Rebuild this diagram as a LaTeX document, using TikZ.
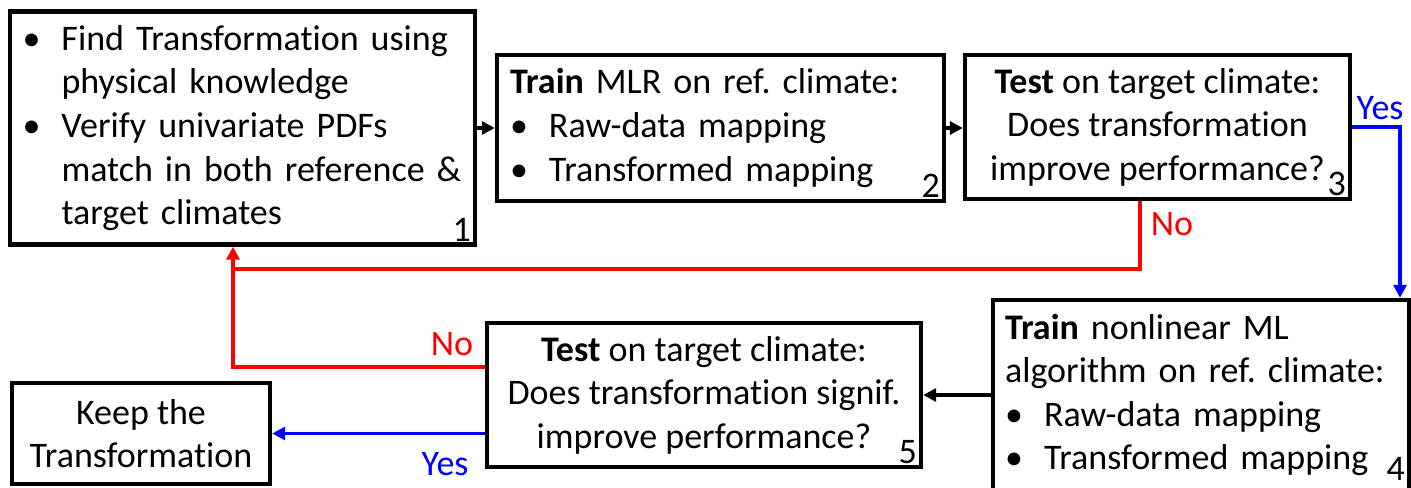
\documentclass[tikz,border=0pt]{standalone}
\usepackage{fontspec}
\setmainfont{Carlito}[Ligatures=NoCommon]
\usetikzlibrary{arrows.meta}
\frenchspacing
\newcommand{\bul}[1]{\makebox[19.5pt][l]{\textbullet}#1}
\newcommand{\cont}{\hspace*{19.5pt}}

\begin{document}
\begin{tikzpicture}[x=0.5pt,y=-0.5pt,
        font=\fontsize{18}{21.8}\selectfont,
        box/.style={draw,line width=2.2pt,inner sep=0pt},
        num/.style={anchor=south east,inner xsep=3pt,inner ysep=2.5pt},
        link/.style={line width=1.75pt,-{Triangle[length=6.5pt,width=6.5pt]}},
        yes/.style={link,blue},
        no/.style={link,red}]
        \useasboundingbox (0,0) rectangle (1411,487);
        \node[box,minimum width=232.5pt,minimum height=116.5pt,text width=220pt,align=left] (b1) at (242.5,128)
            {\bul{Find Transformation using}\\ \cont physical knowledge\\
             \bul{Verify univariate PDFs}\\ \cont match in both reference \&\\ \cont target climates};
        \node[box,minimum width=223.5pt,minimum height=73pt,text width=210.5pt,align=left] (b2) at (720.5,128)
            {\textbf{Train} MLR on ref. climate:\\ \bul{Raw-data mapping}\\ \bul{Transformed mapping}};
        \node[box,minimum width=192.5pt,minimum height=72pt,align=center] (b3) at (1157.5,127)
            {\textbf{Test} on target climate:\\ Does transformation\\ improve performance?};
        \node[box,minimum width=208pt,minimum height=95pt,text width=196pt,align=left] (b4) at (1201,395)
            {\textbf{Train} nonlinear ML\\ algorithm on ref. climate:\\ \bul{Raw-data mapping}\\ \bul{Transformed mapping}};
        \node[box,minimum width=217pt,minimum height=72pt,align=center] (b5) at (704,395)
            {\textbf{Test} on target climate:\\ Does transformation signif.\\ improve performance?};
        \node[box,minimum width=129pt,minimum height=50.5pt,align=center] (keep) at (141,433.5)
            {Keep the\\ Transformation};
        \foreach \b/\n/\s in {b1/1/0,b2/2/0,b3/3/0,b4/4/3,b5/5/0} {
            \node[num,yshift=\s pt] (num\n) at (\b.south east) {\n};
        }
        \coordinate (yc) at (1400,127);
        \coordinate (nc) at (1140,269);
        \coordinate (nl) at (233,269);
        \coordinate (nb) at (0,367);
        \draw[link] (b1.east) -- (b1.east -| b2.west);
        \draw[link] (b2.east) -- (b2.east -| b3.west);
        \draw[yes] (b3.east) -| (yc |- b4.north);
        \draw[no] (nc |- b3.south) -- (nc) -- (nl) -- (nl |- b1.south);
        \draw[no,-] (b5.west |- nb) -| (nl);
        \draw[link] (b4.west |- b5.east) -- (b5.east);
        \draw[yes] (b5.west |- keep.east) -- (keep.east);
        \node[blue] (yes1) at (1380,108) {Yes};
        \node[blue] (yes2) at (445,464) {Yes};
        \node[red] (no1) at (1172,224) {No};
        \node[red] (no2) at (452,344) {No};
\end{tikzpicture}
\end{document}
